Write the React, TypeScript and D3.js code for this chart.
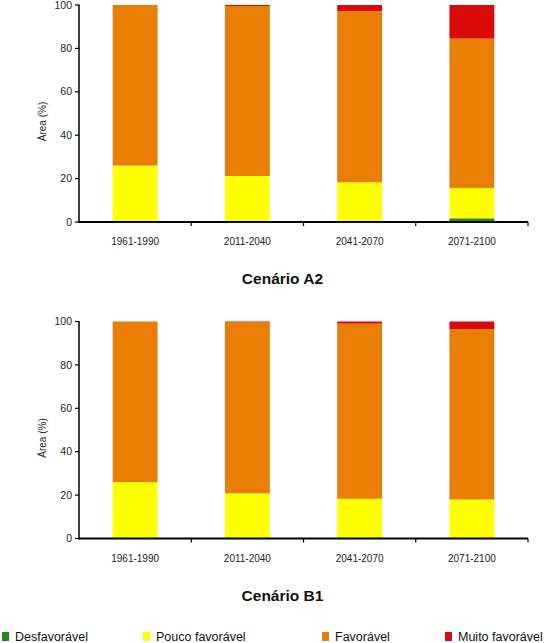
import React from "react";
import * as d3 from "d3";

const periods = ["1961-1990", "2011-2040", "2041-2070", "2071-2100"];
const keys = ["desf", "pouco", "fav", "muito"];
const legendLabels = ["Desfavorável", "Pouco favorável", "Favorável", "Muito favorável"];
const colors = ["#1F8C1F", "#FFFF00", "#E87E04", "#DA0A0A"];

const a2Desf = [0, 0, 0, 1.7];
const a2Pouco = [26, 21.2, 18.3, 14];
const a2Fav = [74, 78.3, 78.9, 68.8];
const a2Muito = [0, 0.5, 2.8, 15.5];

const b1Desf = [0, 0, 0, 0];
const b1Pouco = [26, 20.8, 18.3, 18];
const b1Fav = [74, 78.9, 80.7, 78.5];
const b1Muito = [0, 0.3, 1, 3.5];

const yTicks = [0, 20, 40, 60, 80, 100];
const titles = ["Cenário A2", "Cenário B1"];

const FONT = "'Liberation Sans', Arial, sans-serif";

function build(desf: number[], pouco: number[], fav: number[], muito: number[]) {
  return periods.map((p, i) => ({ period: p, desf: desf[i], pouco: pouco[i], fav: fav[i], muito: muito[i] }));
}

function Panel({ rows, top, title }: { rows: any[]; top: number; title: string }) {
  const x = d3.scaleBand<string>().domain(periods).range([79, 528]).paddingInner(0.6).paddingOuter(0.3);
  const y = d3.scaleLinear().domain([0, 100]).range([top + 217, top]);
  const series = d3.stack<any>().keys(keys)(rows);
  const step = x.step();
  const x0 = 79;
  const boundaries = periods.map((_, i) => x0 + step * (i + 1));
  return (
    <g>
      {series.map((s, si) => (
        <g key={s.key} fill={colors[si]}>
          {s.map((d: any, i: number) => {
            const h = y(d[0]) - y(d[1]);
            if (h <= 0) return null;
            return <rect key={i} x={x(periods[i])} y={y(d[1])} width={x.bandwidth()} height={h} />;
          })}
        </g>
      ))}
      <line x1={79} x2={79} y1={y(100) - 0.5} y2={y(0) + 1} stroke="#000" strokeWidth={1.5} />
      {yTicks.map((t) => (
        <g key={t}>
          <line x1={75} x2={79} y1={y(t)} y2={y(t)} stroke="#000" strokeWidth={1.2} />
          <text x={72} y={y(t)} dy="0.35em" textAnchor="end" fontSize={10.5} fontFamily={FONT} fill="#222">
            {t}
          </text>
        </g>
      ))}
      <text
        transform={`translate(46,${(y(0) + y(100)) / 2 + 8}) rotate(-90)`}
        textAnchor="middle"
        fontSize={10}
        fontFamily={FONT}
        fill="#222"
      >
        Área (%)
      </text>
      <line x1={79} x2={528} y1={y(0)} y2={y(0)} stroke="#000" strokeWidth={2} />
      {boundaries.map((b, i) => (
        <line key={i} x1={b} x2={b} y1={y(0)} y2={y(0) + 4} stroke="#000" strokeWidth={1.2} />
      ))}
      {periods.map((p) => (
        <text
          key={p}
          x={(x(p) as number) + x.bandwidth() / 2}
          y={y(0) + 23}
          textAnchor="middle"
          fontSize={10}
          fontFamily={FONT}
          fill="#222"
        >
          {p}
        </text>
      ))}
      <text x={282.5} y={y(0) + 62} textAnchor="middle" fontSize={15.5} fontWeight="bold" fontFamily={FONT} fill="#111">
        {title}
      </text>
    </g>
  );
}

const legendSquareX = [2, 143, 322, 445];

export default function App() {
  const a2 = build(a2Desf, a2Pouco, a2Fav, a2Muito);
  const b1 = build(b1Desf, b1Pouco, b1Fav, b1Muito);
  return (
    <svg
      width={549}
      height={643}
      style={{ position: "absolute", left: 0, top: 0, background: "#fff" }}
    >
      <rect width={549} height={643} fill="#fff" />
      <Panel rows={a2} top={5} title={titles[0]} />
      <Panel rows={b1} top={321.5} title={titles[1]} />
      {legendLabels.map((l, i) => (
        <g key={l}>
          <rect x={legendSquareX[i]} y={632} width={7} height={9} fill={colors[i]} />
          <text x={legendSquareX[i] + 13} y={640.5} fontSize={12.5} fontFamily={FONT} fill="#111">
            {l}
          </text>
        </g>
      ))}
    </svg>
  );
}
